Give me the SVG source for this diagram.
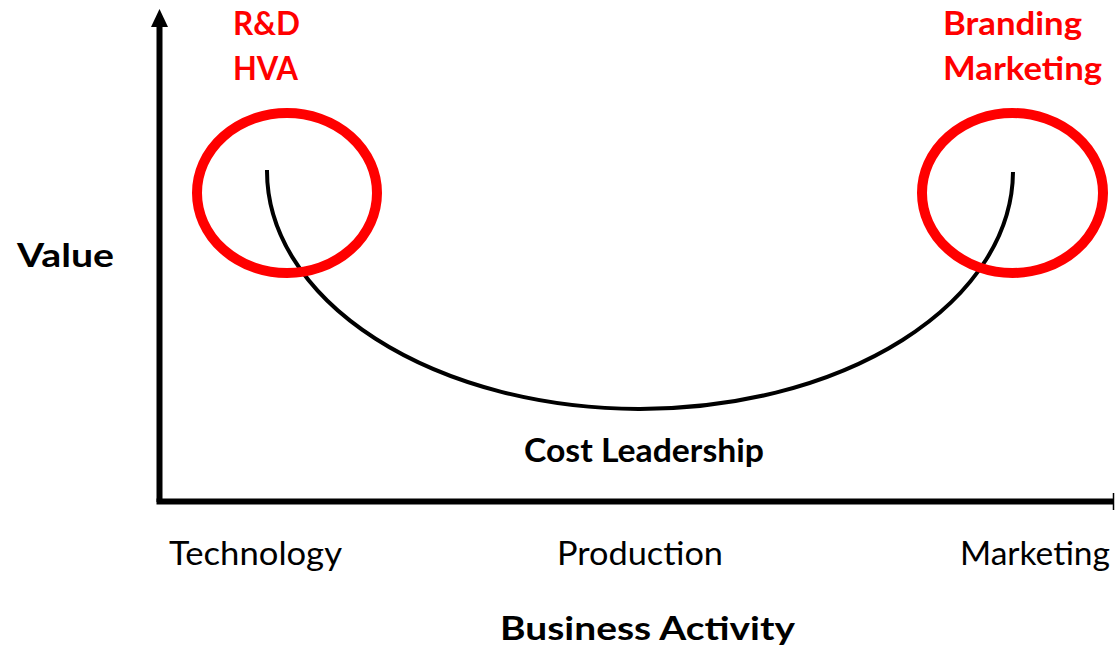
<svg xmlns="http://www.w3.org/2000/svg" width="1115" height="651" viewBox="0 0 1115 651">
  <style>
    text { font-family: Lato, "Open Sans", "Liberation Sans", sans-serif; font-size: 33px; }
    .bold { font-weight: bold; fill: #000; }
    .red { font-weight: bold; fill: #ff0000; }
    .reg { font-weight: normal; fill: #000; }
    .axis { stroke: #000; stroke-width: 6; fill: none; }
    .ring { stroke: #ff0000; stroke-width: 10; fill: none; }
    .curve { stroke: #000; stroke-width: 4; fill: none; }
  </style>
  <rect width="1115" height="651" fill="#fff"/>

  <!-- axes and the smile curve -->
  <g id="connectors">
    <line class="axis" x1="159.5" y1="502" x2="159.5" y2="27"/>
    <path d="M151,27 L159.5,9 L168,27 Z" fill="#000"/>
    <line class="axis" x1="156.5" y1="501.5" x2="1113" y2="501.5"/>
    <line x1="1113.5" y1="493" x2="1113.5" y2="510" stroke="#000" stroke-width="1.5"/>
    <path class="curve" d="M267,170 A373,238 0 0 0 1013,172"/>
  </g>

  <g id="ring-left">
    <ellipse class="ring" cx="287" cy="193" rx="90" ry="80"/>
  </g>
  <g id="ring-right">
    <ellipse class="ring" cx="1012.5" cy="193" rx="90.5" ry="80"/>
  </g>

  <g id="label-rd">
    <text class="red" x="233" y="35" textLength="67" lengthAdjust="spacingAndGlyphs">R&amp;D</text>
    <text class="red" x="233" y="80" textLength="65" lengthAdjust="spacingAndGlyphs">HVA</text>
  </g>
  <g id="label-branding">
    <text class="red" x="943" y="35" textLength="139" lengthAdjust="spacingAndGlyphs">Branding</text>
    <text class="red" x="943" y="80" textLength="159" lengthAdjust="spacingAndGlyphs">Marketing</text>
  </g>
  <g id="label-value">
    <text class="bold" x="17" y="267" textLength="97" lengthAdjust="spacingAndGlyphs">Value</text>
  </g>
  <g id="label-cost">
    <text class="bold" x="524" y="462" textLength="240" lengthAdjust="spacingAndGlyphs">Cost Leadership</text>
  </g>
  <g id="axis-labels">
    <text class="reg" x="169" y="565" textLength="173" lengthAdjust="spacingAndGlyphs">Technology</text>
    <text class="reg" x="557" y="565" textLength="166" lengthAdjust="spacingAndGlyphs">Production</text>
    <text class="reg" x="960" y="565" textLength="150" lengthAdjust="spacingAndGlyphs">Marketing</text>
  </g>
  <g id="label-business">
    <text class="bold" x="500" y="640" textLength="295" lengthAdjust="spacingAndGlyphs">Business Activity</text>
  </g>
</svg>
